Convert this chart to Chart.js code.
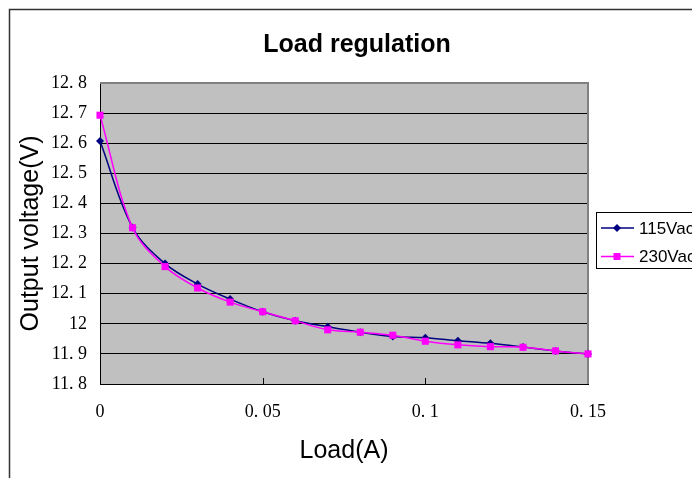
<!DOCTYPE html>
<html lang="en">
<head>
<meta charset="UTF-8">
<title>Load regulation</title>
<style>
  html, body { margin: 0; padding: 0; background: #fff; overflow: hidden; }
  #wrap { width: 692px; height: 478px; }
</style>
</head>
<body>
<div id="wrap"><canvas id="myChart" width="692" height="478"></canvas></div>
<script src="https://cdn.jsdelivr.net/npm/chart.js"></script>
<script>
// dados do grafico
var cargas = [0, 0.01, 0.02, 0.03, 0.04, 0.05, 0.06, 0.07, 0.08, 0.09, 0.1, 0.11, 0.12, 0.13, 0.14, 0.15];
var tensao_115 = [12.607, 12.32, 12.20, 12.132, 12.082, 12.04, 12.01, 11.99, 11.972, 11.958, 11.954, 11.944, 11.935, 11.923, 11.91, 11.90];
var tensao_230 = [12.693, 12.319, 12.19, 12.119, 12.072, 12.04, 12.01, 11.98, 11.972, 11.962, 11.942, 11.930, 11.924, 11.922, 11.91, 11.90];
var nomes_series = ['115Vac', '230Vac'];
var ticks_y = [11.8, 11.9, 12.0, 12.1, 12.2, 12.3, 12.4, 12.5, 12.6, 12.7, 12.8];
var ticks_x = [0, 0.05, 0.1, 0.15];

function formatar(v) {
  return String(Math.round(v * 100) / 100).replace('.', '. ');
}

function pontos(lista) {
  var saida = [];
  for (var i = 0; i < cargas.length; i++) {
    saida.push({ x: cargas[i], y: lista[i] });
  }
  return saida;
}

function marcador(ctx, estilo, x, y, cor) {
  ctx.fillStyle = cor;
  ctx.beginPath();
  if (estilo === 'rectRot') {
    ctx.moveTo(x, y - 4); ctx.lineTo(x + 4, y); ctx.lineTo(x, y + 4); ctx.lineTo(x - 4, y);
  } else {
    ctx.rect(x - 3.5, y - 3.5, 7, 7);
  }
  ctx.closePath();
  ctx.fill();
}

// fundo, moldura, bordas do grafico, titulo e legenda
var desenho = {
  id: 'desenho',
  beforeDraw: function (chart) {
    var ctx = chart.ctx, a = chart.chartArea;
    ctx.save();
    ctx.fillStyle = '#fff';
    ctx.fillRect(0, 0, chart.width, chart.height);
    ctx.strokeStyle = '#333';
    ctx.lineWidth = 1.5;
    ctx.beginPath();
    ctx.moveTo(9.5, chart.height);
    ctx.lineTo(9.5, 9.5);
    ctx.lineTo(chart.width, 9.5);
    ctx.stroke();
    ctx.fillStyle = '#C0C0C0';
    ctx.fillRect(a.left, a.top, a.right - a.left, a.bottom - a.top);
    ctx.restore();
  },
  beforeDatasetsDraw: function (chart) {
    var ctx = chart.ctx, a = chart.chartArea, sx = chart.scales.x;
    ctx.save();
    ctx.strokeStyle = '#808080';
    ctx.lineWidth = 2;
    ctx.beginPath();
    ctx.moveTo(a.left, a.top);
    ctx.lineTo(a.right, a.top);
    ctx.lineTo(a.right, a.bottom);
    ctx.stroke();
    ctx.strokeStyle = '#000';
    ctx.lineWidth = 1;
    for (var i = 1; i < ticks_x.length - 1; i++) {
      var px = Math.round(sx.getPixelForValue(ticks_x[i])) + 0.5;
      ctx.beginPath();
      ctx.moveTo(px, a.bottom);
      ctx.lineTo(px, a.bottom - 6);
      ctx.stroke();
    }
    ctx.restore();
  },
  afterDraw: function (chart) {
    var ctx = chart.ctx;
    ctx.save();
    ctx.fillStyle = '#000';
    ctx.font = 'bold 25px "Liberation Sans", Arial, sans-serif';
    ctx.textAlign = 'center';
    ctx.textBaseline = 'alphabetic';
    ctx.fillText('Load regulation', 357, 52);

    // legenda
    ctx.fillStyle = '#fff';
    ctx.fillRect(596.5, 212.5, 130, 56);
    ctx.strokeStyle = '#000';
    ctx.lineWidth = 1;
    ctx.strokeRect(596.5, 212.5, 130, 56);
    ctx.font = '17px "Liberation Sans", Arial, sans-serif';
    ctx.textAlign = 'left';
    ctx.textBaseline = 'middle';
    chart.data.datasets.forEach(function (ds, i) {
      var y = 228 + i * 28.5;
      ctx.strokeStyle = ds.borderColor;
      ctx.lineWidth = 1.5;
      ctx.beginPath();
      ctx.moveTo(601, y);
      ctx.lineTo(634, y);
      ctx.stroke();
      marcador(ctx, ds.pointStyle, 617, y, ds.borderColor);
      ctx.fillStyle = '#000';
      ctx.fillText(ds.label, 639, y + 1);
    });
    ctx.restore();
  }
};

const ctx = document.getElementById('myChart');

new Chart(ctx, {
  type: 'line',
  data: {
    datasets: [{
      label: nomes_series[0],
      data: pontos(tensao_115),
      borderColor: '#000080',
      backgroundColor: '#000080',
      borderWidth: 1.5,
      pointStyle: 'rectRot',
      pointRadius: 4,
      pointBorderWidth: 0,
      tension: 0.35,
      clip: false,
      order: 1
    }, {
      label: nomes_series[1],
      data: pontos(tensao_230),
      borderColor: '#FF00FF',
      backgroundColor: '#FF00FF',
      borderWidth: 1.5,
      pointStyle: 'rect',
      pointRadius: 5,
      pointBorderWidth: 0,
      tension: 0.35,
      clip: false,
      order: 0
    }]
  },
  options: {
    responsive: false,
    animation: false,
    layout: {
      padding: { top: 83, right: 104, left: 0, bottom: 0 }
    },
    scales: {
      x: {
        type: 'linear',
        min: 0,
        max: 0.15,
        afterFit: function (s) { s.height = 94; },
        afterBuildTicks: function (s) { s.ticks = ticks_x.map(function (v) { return { value: v }; }); },
        grid: { display: false, drawTicks: false },
        border: { display: true, color: '#000', width: 1 },
        ticks: {
          color: '#000',
          padding: 17,
          maxRotation: 0,
          font: { family: '"Liberation Serif", "DejaVu Serif", serif', size: 18 },
          callback: function (v) { return formatar(v); }
        },
        title: {
          display: true,
          text: 'Load(A)',
          color: '#000',
          font: { family: '"Liberation Sans", Arial, sans-serif', size: 25 },
          padding: { top: 0, bottom: 12 }
        }
      },
      y: {
        min: 11.8,
        max: 12.8,
        afterFit: function (s) { s.width = 100; },
        afterBuildTicks: function (s) { s.ticks = ticks_y.map(function (v) { return { value: v }; }); },
        grid: {
          drawTicks: false,
          lineWidth: 1,
          color: function (c) { return (c.tick && c.tick.value === 12.8) ? '#808080' : '#000'; }
        },
        border: { display: true, color: '#000', width: 1 },
        ticks: {
          color: '#000',
          padding: 13,
          font: { family: '"Liberation Serif", "DejaVu Serif", serif', size: 18 },
          callback: function (v) { return formatar(v); }
        },
        title: {
          display: true,
          text: 'Output voltage(V)',
          color: '#000',
          font: { family: '"Liberation Sans", Arial, sans-serif', size: 25 },
          padding: { top: 16, bottom: 0 }
        }
      }
    },
    plugins: {
      legend: { display: false },
      title: { display: false },
      tooltip: { enabled: false }
    }
  },
  plugins: [desenho]
});
</script>
</body>
</html>
